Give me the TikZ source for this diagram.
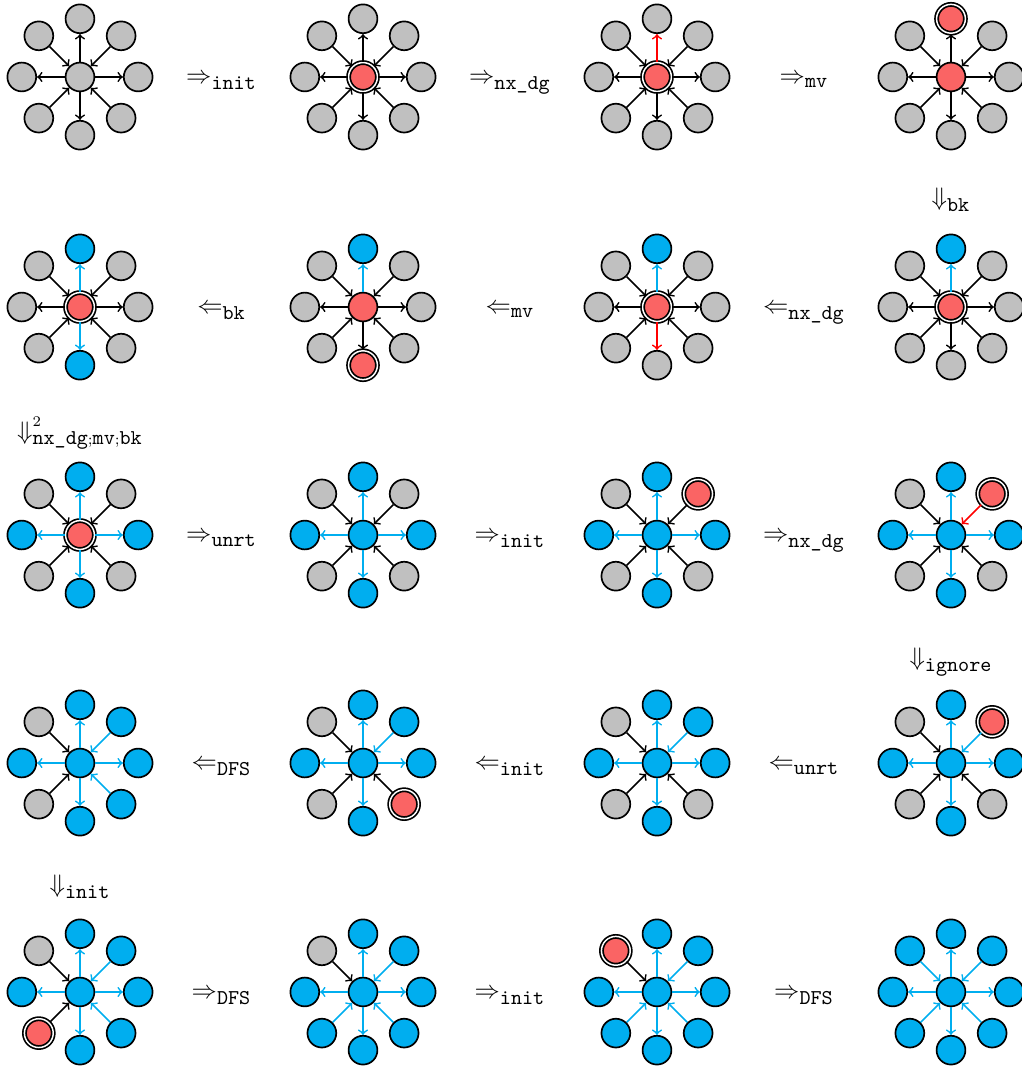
\documentclass[tikz,border=0pt]{standalone}
\usepackage{tikz}
\usepackage{xcolor}
\definecolor{exGray}{RGB}{192,192,192}
\definecolor{exRed}{RGB}{250,100,100}
\definecolor{exBlue}{RGB}{0,174,239}
\tikzset{
    vtx/.style={circle, draw, thick, fill=exGray, minimum size=0.48cm, inner sep=0pt},
    cur/.style={fill=exRed},
    picked/.style={fill=exRed, double, double distance=0.7pt},
    seen/.style={fill=exBlue},
    link/.style={->, thick},
    hot/.style={draw=red},
    tree/.style={draw=exBlue},
    steplbl/.style={anchor=base, inner sep=0pt},
    nd-c/.style={}, nd-n/.style={}, nd-ne/.style={}, nd-e/.style={}, nd-se/.style={},
    nd-s/.style={}, nd-sw/.style={}, nd-w/.style={}, nd-nw/.style={},
    ed-n/.style={}, ed-ne/.style={}, ed-e/.style={}, ed-se/.style={},
    ed-s/.style={}, ed-sw/.style={}, ed-w/.style={}, ed-nw/.style={},
    spokes/.style={nd-c/.style={seen},
        nd-n/.style={seen}, nd-e/.style={seen}, nd-s/.style={seen}, nd-w/.style={seen},
        ed-n/.style={tree}, ed-e/.style={tree}, ed-s/.style={tree}, ed-w/.style={tree}},
}
% one star: centre plus eight neighbours
\newcommand{\exGraph}[3]{%
    \begin{scope}[shift={(#2,#3)}]
        \node[vtx, nd-c] (#1c) at (0,0) {};
        \foreach \dir/\ang in {n/90, ne/45, e/0, se/-45, s/-90, sw/-135, w/180, nw/135} {
            \node[vtx, nd-\dir] (#1\dir) at (\ang:0.97) {};
        }
        \foreach \dir in {n, e, s, w} {
            \draw[link, ed-\dir] (#1c) -- (#1\dir);
        }
        \foreach \dir in {ne, se, sw, nw} {
            \draw[link, ed-\dir] (#1\dir) -- (#1c);
        }
    \end{scope}
}
% step label: arrow with rule name
\newcommand{\exStep}[2]{$\hbox{\large$#1$}_{\texttt{#2}}$}

\begin{document}
\begin{tikzpicture}
    \useasboundingbox (0,0) rectangle (17.017,-17.767);

    % row 1
    \exGraph{a1}{1.333}{-1.283}
    \begin{scope}[nd-c/.style={picked}]
        \exGraph{a2}{6.05}{-1.283}
    \end{scope}
    \begin{scope}[nd-c/.style={picked}, ed-n/.style={hot}]
        \exGraph{a3}{10.95}{-1.283}
    \end{scope}
    \begin{scope}[nd-c/.style={cur}, nd-n/.style={picked}]
        \exGraph{a4}{15.85}{-1.283}
    \end{scope}
    \node[steplbl] (sa1) at (3.692,-1.4) {\exStep{\Rightarrow}{init}};
    \node[steplbl] (sa2) at (8.5,-1.4) {\exStep{\Rightarrow}{nx\_dg}};
    \node[steplbl] (sa3) at (13.4,-1.4) {\exStep{\Rightarrow}{mv}};
    \node[steplbl] (da4) at (15.85,-3.433) {\exStep{\Downarrow}{bk}};

    % row 2 (right to left)
    \begin{scope}[nd-c/.style={picked}, nd-n/.style={seen}, ed-n/.style={tree}]
        \exGraph{b4}{15.85}{-5.117}
    \end{scope}
    \begin{scope}[nd-c/.style={picked}, nd-n/.style={seen}, ed-n/.style={tree}, ed-s/.style={hot}]
        \exGraph{b3}{10.95}{-5.117}
    \end{scope}
    \begin{scope}[nd-c/.style={cur}, nd-n/.style={seen}, ed-n/.style={tree}, nd-s/.style={picked}]
        \exGraph{b2}{6.05}{-5.117}
    \end{scope}
    \begin{scope}[nd-c/.style={picked}, nd-n/.style={seen}, ed-n/.style={tree},
                  nd-s/.style={seen}, ed-s/.style={tree}]
        \exGraph{b1}{1.333}{-5.117}
    \end{scope}
    \node[steplbl] (sb3) at (13.4,-5.233) {\exStep{\Leftarrow}{nx\_dg}};
    \node[steplbl] (sb2) at (8.5,-5.233) {\exStep{\Leftarrow}{mv}};
    \node[steplbl] (sb1) at (3.692,-5.233) {\exStep{\Leftarrow}{bk}};
    \node[steplbl] (db1) at (1.333,-7.317)
        {$\hbox{\large$\Downarrow$}^2_{\texttt{nx\_dg};\texttt{mv};\texttt{bk}}$};

    % row 3
    \begin{scope}[spokes, nd-c/.style={picked}]
        \exGraph{c1}{1.333}{-8.917}
    \end{scope}
    \begin{scope}[spokes]
        \exGraph{c2}{6.05}{-8.917}
    \end{scope}
    \begin{scope}[spokes, nd-ne/.style={picked}]
        \exGraph{c3}{10.95}{-8.917}
    \end{scope}
    \begin{scope}[spokes, nd-ne/.style={picked}, ed-ne/.style={hot}]
        \exGraph{c4}{15.85}{-8.917}
    \end{scope}
    \node[steplbl] (sc1) at (3.692,-9.033) {\exStep{\Rightarrow}{unrt}};
    \node[steplbl] (sc2) at (8.5,-9.033) {\exStep{\Rightarrow}{init}};
    \node[steplbl] (sc3) at (13.4,-9.033) {\exStep{\Rightarrow}{nx\_dg}};
    \node[steplbl] (dc4) at (15.85,-11.1) {\exStep{\Downarrow}{ignore}};

    % row 4 (right to left)
    \begin{scope}[spokes, nd-ne/.style={picked}, ed-ne/.style={tree}]
        \exGraph{d4}{15.85}{-12.717}
    \end{scope}
    \begin{scope}[spokes, nd-ne/.style={seen}, ed-ne/.style={tree}]
        \exGraph{d3}{10.95}{-12.717}
    \end{scope}
    \begin{scope}[spokes, nd-ne/.style={seen}, ed-ne/.style={tree}, nd-se/.style={picked}]
        \exGraph{d2}{6.05}{-12.717}
    \end{scope}
    \begin{scope}[spokes, nd-ne/.style={seen}, ed-ne/.style={tree},
                  nd-se/.style={seen}, ed-se/.style={tree}]
        \exGraph{d1}{1.333}{-12.717}
    \end{scope}
    \node[steplbl] (sd3) at (13.4,-12.833) {\exStep{\Leftarrow}{unrt}};
    \node[steplbl] (sd2) at (8.5,-12.833) {\exStep{\Leftarrow}{init}};
    \node[steplbl] (sd1) at (3.692,-12.833) {\exStep{\Leftarrow}{DFS}};
    \node[steplbl] (dd1) at (1.333,-14.883) {\exStep{\Downarrow}{init}};

    % row 5
    \begin{scope}[spokes, nd-ne/.style={seen}, ed-ne/.style={tree},
                  nd-se/.style={seen}, ed-se/.style={tree}, nd-sw/.style={picked}]
        \exGraph{e1}{1.333}{-16.533}
    \end{scope}
    \begin{scope}[spokes, nd-ne/.style={seen}, ed-ne/.style={tree},
                  nd-se/.style={seen}, ed-se/.style={tree}, nd-sw/.style={seen}, ed-sw/.style={tree}]
        \exGraph{e2}{6.05}{-16.533}
    \end{scope}
    \begin{scope}[spokes, nd-ne/.style={seen}, ed-ne/.style={tree},
                  nd-se/.style={seen}, ed-se/.style={tree}, nd-sw/.style={seen}, ed-sw/.style={tree},
                  nd-nw/.style={picked}]
        \exGraph{e3}{10.95}{-16.533}
    \end{scope}
    \begin{scope}[spokes, nd-ne/.style={seen}, ed-ne/.style={tree},
                  nd-se/.style={seen}, ed-se/.style={tree}, nd-sw/.style={seen}, ed-sw/.style={tree},
                  nd-nw/.style={seen}, ed-nw/.style={tree}]
        \exGraph{e4}{15.85}{-16.533}
    \end{scope}
    \node[steplbl] (se1) at (3.692,-16.65) {\exStep{\Rightarrow}{DFS}};
    \node[steplbl] (se2) at (8.5,-16.65) {\exStep{\Rightarrow}{init}};
    \node[steplbl] (se3) at (13.4,-16.65) {\exStep{\Rightarrow}{DFS}};
\end{tikzpicture}
\end{document}
